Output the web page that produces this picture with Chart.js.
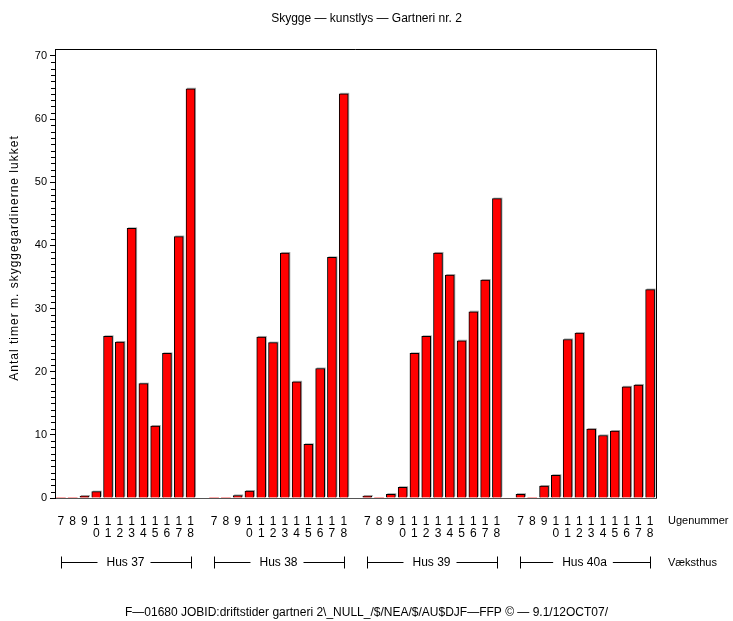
<!DOCTYPE html>
<html><head><meta charset="utf-8">
<style>html,body{margin:0;padding:0;background:#fff;} canvas{display:block;}</style>
<script src="https://cdn.jsdelivr.net/npm/chart.js@4.4.1/dist/chart.umd.min.js"></script>
</head><body>
<canvas id="c" width="733" height="621"></canvas>
<script>
const chartTitle = 'Skygge — kunstlys — Gartneri nr. 2';
const footnote = 'F—01680 JOBID:driftstider gartneri 2\\_NULL_/$/NEA/$/AU$DJF—FFP © — 9.1/12OCT07/';
const yTitle = 'Antal timer m. skyggegardinerne lukket';
const xTitle = 'Ugenummer';
const groupTitle = 'Væksthus';
const groups = ['Hus 37', 'Hus 38', 'Hus 39', 'Hus 40a'];
const weeks = ['7', '8', '9', '10', '11', '12', '13', '14', '15', '16', '17', '18'];
const hus37  = [0,   0, 0.3, 1.0, 25.6, 24.7, 42.7, 18.1, 11.4, 22.9, 41.4, 64.8];
const hus38  = [0,   0, 0.4, 1.1, 25.5, 24.6, 38.8, 18.4,  8.5, 20.5, 38.1, 64.0];
const hus39  = [0.3, 0, 0.6, 1.7, 22.9, 25.6, 38.8, 35.3, 24.9, 29.5, 34.5, 47.4];
const hus40a = [0.6, 0, 1.9, 3.6, 25.1, 26.1, 10.9,  9.9, 10.6, 17.6, 17.9, 33.0];
const yMajorStep = 10;
const yMinorStep = 1;
const yMax = 70;

const FONT = '"Liberation Sans", Arial, Helvetica, sans-serif';
const seriesByGroup = [hus37, hus38, hus39, hus40a];
const perGroup = weeks.length + 1;
const labels = [], values = [];
seriesByGroup.forEach((s, g) => {
  if (g > 0) { labels.push(''); values.push(null); }
  weeks.forEach((w, i) => { labels.push(w.length > 1 ? w.split('') : w); values.push(s[i]); });
});

Chart.defaults.font.family = FONT;
Chart.defaults.color = '#000';

const decor = {
  id: 'decor',
  beforeDatasetsDraw(chart) {
    const {ctx} = chart;
    const meta = chart.getDatasetMeta(0);
    ctx.save();
    ctx.fillStyle = '#a0a0a0';
    meta.data.forEach((bar, i) => {
      const v = values[i];
      if (!v) return;
      const p = bar.getProps(['x', 'y', 'base', 'width'], true);
      ctx.fillRect(p.x - p.width / 2 + 1, p.y - 1, p.width, p.base - p.y);
    });
    ctx.restore();
  },
  afterDraw(chart) {
    const {ctx, chartArea: a} = chart;
    const xs = chart.scales.x, ys = chart.scales.y;
    ctx.save();
    ctx.strokeStyle = '#000';
    ctx.lineWidth = 1;
    ctx.beginPath();
    ctx.moveTo(a.left, Math.round(a.top) + 0.5);
    ctx.lineTo(Math.round(a.right) + 0.5, Math.round(a.top) + 0.5);
    ctx.lineTo(Math.round(a.right) + 0.5, a.bottom);
    ctx.stroke();

    // minor y ticks
    ctx.beginPath();
    const lx = Math.round(a.left);
    for (let v = 0; v <= yMax; v += yMinorStep) {
      if (v % yMajorStep === 0) continue;
      const py = Math.round(ys.getPixelForValue(v)) + 0.5;
      ctx.moveTo(lx - 4, py); ctx.lineTo(lx + 0.5, py);
    }
    ctx.stroke();

    // group brackets
    ctx.font = '12px ' + FONT;
    ctx.fillStyle = '#000';
    ctx.textBaseline = 'middle';
    ctx.textAlign = 'center';
    const by = Math.round(a.bottom + 64) + 0.5;
    groups.forEach((name, g) => {
      const x0 = Math.round(xs.getPixelForValue(g * perGroup)) + 0.5;
      const x1 = Math.round(xs.getPixelForValue(g * perGroup + weeks.length - 1)) + 0.5;
      const cx = (x0 + x1) / 2;
      const w = ctx.measureText(name).width;
      ctx.fillText(name, cx - 1, by);
      ctx.beginPath();
      ctx.moveTo(x0, by - 6); ctx.lineTo(x0, by + 6);
      ctx.moveTo(x0, by); ctx.lineTo(cx - 1 - w / 2 - 9, by);
      ctx.moveTo(cx - 1 + w / 2 + 6, by); ctx.lineTo(x1, by);
      ctx.moveTo(x1, by - 6); ctx.lineTo(x1, by + 6);
      ctx.stroke();
    });

    // right-side axis labels
    ctx.font = '11px ' + FONT;
    ctx.textAlign = 'left';
    ctx.fillText(xTitle, a.right + 12, a.bottom + 23);
    ctx.fillText(groupTitle, a.right + 12, by);

    // y title
    ctx.save();
    ctx.font = '12px ' + FONT;
    ctx.textAlign = 'center';
    try { ctx.letterSpacing = '1px'; } catch (e) {}
    ctx.translate(15, 258);
    ctx.rotate(-Math.PI / 2);
    ctx.fillText(yTitle, 0, 0);
    ctx.restore();
    ctx.restore();
  }
};

new Chart(document.getElementById('c'), {
  type: 'bar',
  data: {
    labels: labels,
    datasets: [{
      data: values,
      backgroundColor: '#ff0000',
      borderColor: '#000',
      borderWidth: c => (c.raw ? 1 : 0),
      barThickness: 9
    }]
  },
  options: {
    responsive: false,
    animation: false,
    layout: {padding: 0},
    plugins: {
      legend: {display: false},
      tooltip: {enabled: false},
      title: {
        display: true, text: chartTitle, color: '#000',
        font: {size: 12, weight: 'normal', lineHeight: 1.2},
        padding: {top: 11, bottom: 23.6}
      },
      subtitle: {
        display: true, position: 'bottom', text: footnote, color: '#000',
        font: {size: 12, weight: 'normal', lineHeight: 1.2},
        padding: {top: 4, bottom: 1}
      }
    },
    scales: {
      x: {
        offset: true,
        grid: {display: false, drawTicks: false},
        border: {display: true, color: '#555', width: 1},
        ticks: {
          autoSkip: false, maxRotation: 0, minRotation: 0, padding: 18,
          font: {size: 12, lineHeight: 1}, color: '#000'
        },
        afterFit: s => { s.height = 621 - 19.4 - 498; }
      },
      y: {
        min: 0, max: 71.1,
        grid: {drawOnChartArea: false, drawTicks: true, tickLength: 5, tickColor: '#000', tickWidth: 1},
        border: {display: true, color: '#000', width: 1},
        ticks: {
          stepSize: yMajorStep, includeBounds: false, autoSkip: false, padding: 3,
          font: {size: 11}, color: '#000'
        },
        afterFit: s => { s.width = 55; }
      },
      yRight: {
        type: 'linear', position: 'right', display: true,
        grid: {display: false, drawTicks: false},
        border: {display: false},
        ticks: {display: false},
        afterFit: s => { s.width = 77; }
      }
    }
  },
  plugins: [decor]
});
</script>
</body></html>
